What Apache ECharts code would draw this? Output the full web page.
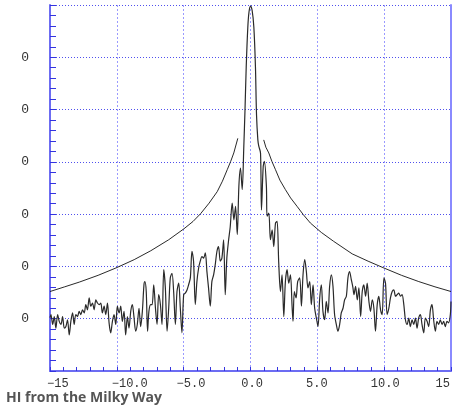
<!DOCTYPE html>
<html>
<head>
<meta charset="utf-8">
<title>HI from the Milky Way</title>
<script src="https://cdn.jsdelivr.net/npm/echarts@6/dist/echarts.min.js"></script>
<style>
  html, body { margin: 0; padding: 0; background: #ffffff; }
  #chart { width: 453px; height: 405px; }
</style>
</head>
<body>
<div id="chart"></div>
<script>
// HI 21 cm spectrum: velocity (x) and brightness (y)
const velocity = [
  -15.00, -14.93, -14.80, -14.68, -14.56, -14.43, -14.31, -14.18, -14.06, -13.93,
  -13.81, -13.69, -13.56, -13.44, -13.31, -13.19, -13.07, -12.94, -12.82, -12.69,
  -12.57, -12.44, -12.32, -12.20, -12.07, -11.95, -11.82, -11.70, -11.57, -11.45,
  -11.33, -11.20, -11.08, -10.95, -10.83, -10.70, -10.58, -10.46, -10.33, -10.21,
  -10.08, -9.96, -9.83, -9.71, -9.59, -9.46, -9.34, -9.21, -9.09, -8.96,
  -8.84, -8.72, -8.59, -8.47, -8.34, -8.22, -8.09, -7.97, -7.90, -7.80,
  -7.70, -7.60, -7.47, -7.36, -7.24, -7.11, -6.99, -6.87, -6.74, -6.62,
  -6.49, -6.37, -6.24, -6.12, -6.00, -5.87, -5.75, -5.62, -5.50, -5.37,
  -5.25, -5.13, -5.00, -4.88, -4.75, -4.63, -4.50, -4.38, -4.26, -4.13,
  -4.01, -3.88, -3.76, -3.63, -3.51, -3.38, -3.26, -3.14, -3.01, -2.89,
  -2.76, -2.64, -2.51, -2.39, -2.26, -2.14, -2.01, -1.89, -1.77, -1.64,
  -1.52, -1.37, -1.24, -1.12, -0.99, -0.87, -0.75, -0.62, -0.50, -0.41,
  -0.32, -0.20, -0.11, 0.00, 0.12, 0.25, 0.37, 0.45, 0.55, 0.62,
  0.75, 0.82, 0.95, 1.04, 1.19, 1.24, 1.37, 1.49, 1.62, 1.74,
  1.87, 1.99, 2.11, 2.24, 2.36, 2.49, 2.61, 2.74, 2.86, 2.99,
  3.11, 3.18, 3.28, 3.41, 3.53, 3.68, 3.81, 3.93, 4.06, 4.18,
  4.30, 4.43, 4.55, 4.68, 4.80, 4.93, 5.05, 5.18, 5.30, 5.42,
  5.55, 5.67, 5.80, 5.92, 6.05, 6.17, 6.29, 6.42, 6.54, 6.67,
  6.79, 6.92, 7.04, 7.17, 7.29, 7.41, 7.54, 7.66, 7.74, 7.86,
  7.99, 8.11, 8.24, 8.36, 8.48, 8.61, 8.73, 8.86, 8.98, 9.11,
  9.23, 9.35, 9.48, 9.60, 9.73, 9.85, 9.98, 10.10, 10.22, 10.35,
  10.47, 10.60, 10.72, 10.85, 10.97, 11.09, 11.22, 11.34, 11.47, 11.59,
  11.72, 11.84, 11.96, 12.09, 12.21, 12.34, 12.46, 12.58, 12.71, 12.83,
  12.96, 13.08, 13.21, 13.33, 13.46, 13.58, 13.70, 13.83, 13.95, 14.08,
  14.20, 14.33, 14.45, 14.57, 14.70, 14.82, 14.95, 15.00
];
const brightness = [
  0.02, 0.08, -0.11, 0.04, -0.18, 0.08, -0.05, -0.11, 0.04, -0.18,
  -0.15, -0.02, -0.31, -0.05, 0.11, -0.11, 0.08, 0.04, 0.14, 0.08,
  0.17, 0.11, 0.27, 0.17, 0.40, 0.24, 0.30, 0.17, 0.36, 0.30,
  0.27, 0.30, 0.11, 0.24, 0.08, 0.30, -0.08, -0.27, -0.05, 0.08,
  -0.11, 0.24, 0.11, 0.24, -0.05, 0.14, -0.31, 0.04, -0.18, 0.14,
  0.27, 0.04, -0.24, -0.11, 0.20, -0.15, 0.14, 0.65, 0.71, 0.52,
  -0.24, 0.14, 0.27, 0.27, 0.65, 0.20, -0.11, 0.46, 0.27, -0.11,
  0.94, 0.59, -0.24, 0.20, 0.78, 0.87, 0.52, -0.11, 0.52, 0.68,
  0.20, -0.27, 0.46, 0.49, 0.55, 0.65, 0.78, 1.29, 1.10, 0.27,
  0.71, 0.97, 1.10, 1.19, 1.16, 1.26, 0.90, 0.59, 0.24, 0.71,
  0.84, 1.03, 1.29, 1.38, 1.10, 1.16, 1.51, 0.46, 1.16, 1.50,
  1.75, 2.21, 1.89, 2.15, 1.61, 2.53, 2.88, 2.47, 3.30, 4.00,
  4.82, 5.58, 5.87, 5.98, 5.90, 5.58, 4.82, 3.90, 3.42, 3.30,
  3.17, 2.08, 2.91, 3.01, 2.53, 1.96, 2.02, 1.51, 1.70, 1.38,
  1.83, 1.86, 1.08, 0.52, 0.84, 0.04, 0.71, 0.94, 0.68, 0.84,
  0.24, -0.05, 0.52, 0.40, 0.71, 0.78, 0.24, 0.84, 1.13, 0.90,
  0.59, 0.71, 0.27, 0.65, 0.20, 0.01, -0.15, 0.40, 0.65, 0.14,
  -0.02, 0.33, 0.11, 0.62, 0.84, 0.62, 0.08, -0.11, -0.24, -0.11,
  0.11, 0.20, 0.36, 0.43, 0.78, 0.90, 0.75, 0.60, 0.46, 0.62,
  0.36, 0.59, 0.04, 0.52, 0.65, 0.43, 0.68, 0.33, 0.14, 0.36,
  0.20, -0.24, 0.27, 0.43, 0.17, 0.08, 0.78, 0.68, 0.08, 0.20,
  0.40, 0.52, 0.55, 0.43, 0.46, 0.49, 0.43, 0.46, 0.27, -0.02,
  -0.11, 0.01, -0.15, -0.02, -0.11, 0.01, -0.18, 0.01, 0.08, -0.11,
  -0.27, 0.01, -0.05, -0.15, 0.17, 0.27, -0.02, -0.24, -0.05, -0.11,
  -0.02, -0.11, -0.05, -0.15, -0.05, -0.08, 0.08, 0.33
];

// Smooth model profile, drawn as two wings either side of the line centre
const modelLeftV = [-15.00, -13.90, -12.81, -11.40, -10.07, -8.70, -7.46, -6.12, -4.98, -4.30, -3.73, -3.10, -2.49, -2.10, -1.74, -1.48, -1.25, -0.95];
const modelLeftT = [0.52, 0.61, 0.70, 0.83, 0.97, 1.13, 1.30, 1.51, 1.72, 1.86, 2.01, 2.21, 2.43, 2.63, 2.85, 3.01, 3.17, 3.45];
const modelRightV = [0.99, 1.15, 1.37, 1.60, 1.87, 2.20, 2.61, 3.00, 3.48, 3.95, 4.48, 5.30, 6.22, 7.61, 8.80, 9.98, 11.30, 12.59, 13.80, 15.00];
const modelRightT = [3.42, 3.28, 3.17, 3.01, 2.85, 2.65, 2.47, 2.31, 2.15, 1.99, 1.83, 1.65, 1.48, 1.24, 1.10, 0.97, 0.83, 0.71, 0.61, 0.52];

// Axis ticks and their labels
const xTicks = [-15, -10, -5, 0, 5, 10, 15];
const xTickLabels = ['\u221215', '\u221210.0', '\u22125.0', '0.0', '5.0', '10.0', '15'];
const yTicks = [-1, 0, 1, 2, 3, 4, 5, 6];
const yTickLabels = ['', '0', '0', '0', '0', '0', '0', ''];

const chartTitle = 'HI from the Milky Way';

const pairs = (xs, ys) => xs.map((x, i) => [x, ys[i]]);

const axisBlue = '#6c6cf2';
const tickBlue = '#3434e0';
const monoFont = '"Liberation Mono", "DejaVu Sans Mono", monospace';

const chart = echarts.init(document.getElementById('chart'), null, { renderer: 'canvas' });

chart.setOption({
  animation: false,
  backgroundColor: '#ffffff',
  title: {
    text: chartTitle,
    left: 1,
    top: 386,
    textStyle: {
      fontFamily: '"Open Sans", "Noto Sans", sans-serif',
      fontWeight: 'bold',
      fontSize: 14,
      color: '#555555'
    }
  },
  grid: [
    { left: 50, right: 2, top: 5, bottom: 34, containLabel: false },
    // label row for the velocity axis, shifted so each label starts just left of its tick
    { left: 47, right: 5, top: 5, bottom: 34, containLabel: false }
  ],
  xAxis: [
    {
      type: 'value',
      gridIndex: 0,
      min: -15,
      max: 15,
      interval: 5,
      axisLine: { show: true, onZero: false, lineStyle: { color: axisBlue, width: 2 } },
      axisTick: { show: true, inside: true, length: 4, lineStyle: { color: tickBlue, width: 1 } },
      minorTick: { show: true, splitNumber: 5, length: 4, lineStyle: { color: tickBlue, width: 1 } },
      axisLabel: { show: false },
      splitLine: { show: true, lineStyle: { color: '#9a9aff', width: 1, type: [2, 2] } }
    },
    {
      type: 'value',
      gridIndex: 1,
      min: -15,
      max: 15,
      interval: 5,
      axisLine: { show: false },
      axisTick: { show: false },
      splitLine: { show: false },
      axisLabel: {
        show: true,
        align: 'left',
        alignMinLabel: 'left',
        alignMaxLabel: 'left',
        hideOverlap: false,
        margin: 7,
        fontFamily: monoFont,
        fontSize: 12,
        color: '#333333',
        showMinLabel: true,
        showMaxLabel: true,
        formatter: v => {
          const i = xTicks.indexOf(Math.round(v));
          return i >= 0 ? xTickLabels[i] : '';
        }
      }
    }
  ],
  yAxis: [
    {
      type: 'value',
      gridIndex: 0,
      min: -1,
      max: 6,
      interval: 1,
      axisLine: { show: true, onZero: false, lineStyle: { color: axisBlue, width: 2 } },
      axisTick: { show: true, inside: true, length: 6, lineStyle: { color: tickBlue, width: 1 } },
      minorTick: { show: true, splitNumber: 5, length: 6, lineStyle: { color: tickBlue, width: 1 } },
      axisLabel: {
        show: true,
        margin: 21,
        padding: [8, 0, 0, 0],
        fontFamily: monoFont,
        fontSize: 13,
        color: '#333333',
        formatter: v => {
          const i = yTicks.indexOf(Math.round(v));
          return i >= 0 ? yTickLabels[i] : '';
        }
      },
      splitLine: { show: true, lineStyle: { color: '#5050ee', width: 1, type: [1, 2] } }
    },
    {
      type: 'value',
      gridIndex: 0,
      position: 'right',
      min: -1,
      max: 6,
      interval: 1,
      axisLine: { show: true, onZero: false, lineStyle: { color: '#8a8aff', width: 2 } },
      axisTick: { show: false },
      axisLabel: { show: false },
      splitLine: { show: false }
    },
    {
      type: 'value',
      gridIndex: 1,
      min: -1,
      max: 6,
      show: false
    }
  ],
  series: [
    {
      name: 'model left',
      type: 'line',
      xAxisIndex: 0,
      yAxisIndex: 0,
      data: pairs(modelLeftV, modelLeftT),
      showSymbol: false,
      lineStyle: { color: '#111111', width: 0.9 },
      z: 3
    },
    {
      name: 'model right',
      type: 'line',
      xAxisIndex: 0,
      yAxisIndex: 0,
      data: pairs(modelRightV, modelRightT),
      showSymbol: false,
      lineStyle: { color: '#111111', width: 0.9 },
      z: 3
    },
    {
      name: 'spectrum',
      type: 'line',
      xAxisIndex: 0,
      yAxisIndex: 0,
      data: pairs(velocity, brightness),
      showSymbol: false,
      smooth: 0.3,
      lineStyle: { color: '#2a2a2a', width: 1.2 },
      z: 4
    }
  ]
});
</script>
</body>
</html>
